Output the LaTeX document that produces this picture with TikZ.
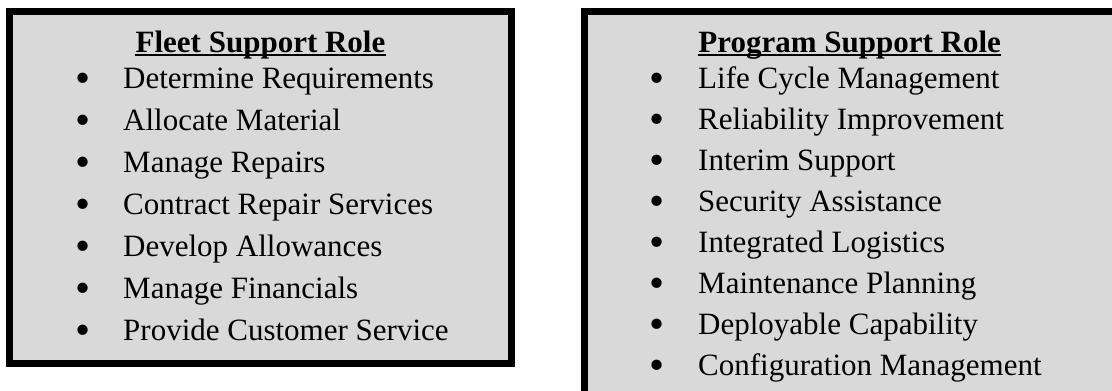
\documentclass[tikz,border=0pt]{standalone}
\usepackage{fontspec}
\setmainfont{Liberation Serif}
\definecolor{boxgrey}{RGB}{217,217,217}
\begin{document}
\begin{tikzpicture}[x=1pt,y=-1pt,
  panel/.style={draw=black, line width=7pt, fill=boxgrey, inner sep=0pt, outer sep=0pt},
  rolettl/.style={font=\fontsize{31}{37}\selectfont\bfseries, anchor=base, inner sep=0pt},
  item/.style={font=\fontsize{31}{37}\selectfont, anchor=base west, inner sep=0pt},
  bul/.style={font=\fontsize{43}{46}\selectfont, anchor=base, inner sep=0pt},
  uline/.style={line width=2pt}]
\useasboundingbox (0,0) rectangle (1112,391);
\begin{scope}
\clip (0,0) rectangle (1112,391);
\node[panel, minimum width=502pt, minimum height=352pt] (fleet) at (260.5,187.5) {};
\node[panel, minimum width=531pt, minimum height=420pt] (prog) at (849.75,221.5) {};
\end{scope}
% titles
\node[rolettl] (ft) at (260.5,52) {Fleet Support Role};
\draw[uline] ([yshift=-3pt]ft.base west) -- ([yshift=-3pt]ft.base east);
\node[rolettl] (pt) at (849.75,52) {Program Support Role};
\draw[uline] ([yshift=-3pt]pt.base west) -- ([yshift=-3pt]pt.base east);
% left items
\foreach \t [count=\i from 0] in {Determine Requirements, Allocate Material, Manage Repairs, Contract Repair Services, Develop Allowances, Manage Financials, Provide Customer Service}{
  \node[bul] (lb\i) at (83,92+42*\i) {•};
  \node[item] (li\i) at (123,88+42*\i) {\t};
}
% right items
\foreach \t [count=\i from 0] in {Life Cycle Management, Reliability Improvement, Interim Support, Security Assistance, Integrated Logistics, Maintenance Planning, Deployable Capability, Configuration Management}{
  \node[bul] (rb\i) at (657,92+41*\i) {•};
  \node[item] (ri\i) at (698,88+41*\i) {\t};
}
\end{tikzpicture}
\end{document}
